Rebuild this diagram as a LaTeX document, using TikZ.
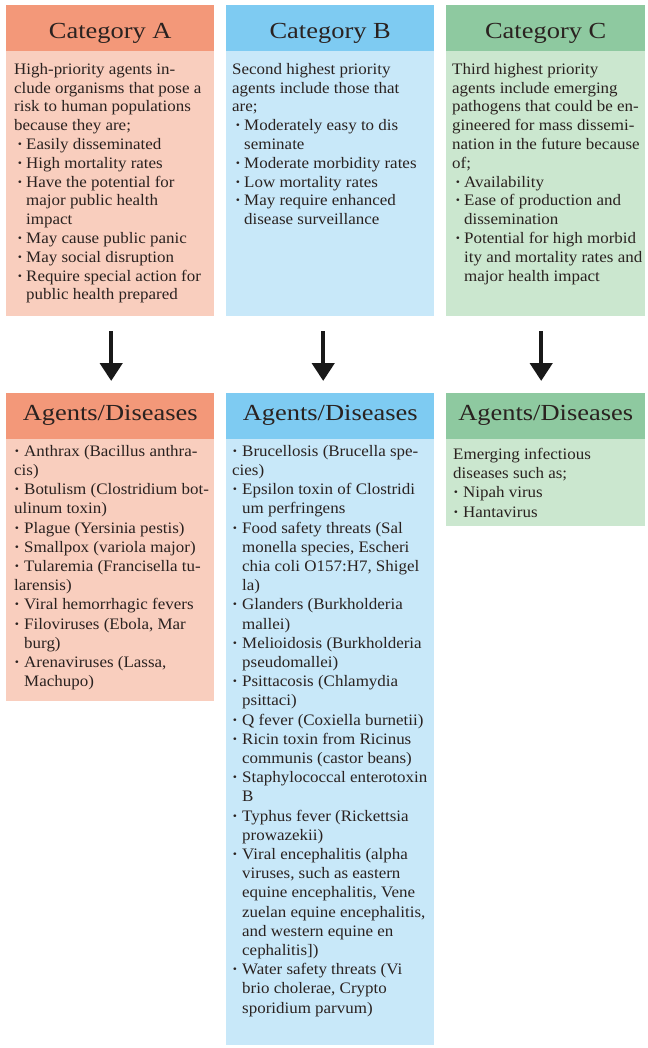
\documentclass[tikz,border=0pt]{standalone}
\usepackage{fontspec}
\setmainfont{Liberation Serif}[FakeStretch=1.06]
\newfontfamily\hdrfont{Liberation Serif}[FakeStretch=1.15]
\usetikzlibrary{arrows.meta}

\definecolor{hdrA}{RGB}{243,152,121}
\definecolor{bodA}{RGB}{249,206,190}
\definecolor{hdrB}{RGB}{126,203,242}
\definecolor{bodB}{RGB}{200,232,249}
\definecolor{hdrC}{RGB}{142,201,160}
\definecolor{bodC}{RGB}{203,231,207}
\definecolor{ink}{RGB}{42,34,32}

% bullet items: upper panels (slightly indented) and lower panels
\newcommand\dotmark{\textbf{·}}
\newcommand\citem[1]{\hspace*{3pt}\makebox[9pt][l]{\dotmark}#1}
\newcommand\ccont[1]{\hspace*{12pt}#1}
\newcommand\aitem[1]{\makebox[10pt][l]{\dotmark}#1}
\newcommand\acont[1]{\hspace*{10pt}#1}

\tikzset{
  hdr/.style={anchor=north west, inner sep=0pt, minimum width=208pt,
    minimum height=46pt, text=ink, font=\hdrfont\fontsize{23}{27}\selectfont},
  cathdr/.style={hdr, text height=20pt, text depth=0pt},
  aghdr/.style={hdr, text height=9pt, text depth=0pt},
  panel/.style={anchor=north west, inner sep=0pt, minimum width=208pt},
  txt/.style={anchor=north west, inner sep=0pt, align=left, text=ink},
  cattxt/.style={txt, font=\fontsize{16}{18.8}\selectfont},
  agtxt/.style={txt, font=\fontsize{16}{19.2}\selectfont},
  down/.style={line width=4.5pt, draw=black!90,
    -{Triangle[width=22pt,length=18pt]}, shorten <=15pt, shorten >=12pt}
}

\begin{document}
\begin{tikzpicture}[x=1pt,y=-1pt]
\fill[white] (0,0) rectangle (647,1048);
\useasboundingbox (0,0) rectangle (647,1048);

% ---- category panels ----
\node[panel, fill=bodA, minimum height=266pt] (bodyA) at (6,50) {};
\node[cathdr, fill=hdrA] (catA) at (6,5) {Category A};
\node[panel, fill=bodB, minimum height=266pt] (bodyB) at (226,50) {};
\node[cathdr, fill=hdrB] (catB) at (226,5) {Category B};
\node[panel, fill=bodC, minimum height=266pt, minimum width=199pt] (bodyC) at (446,50) {};
\node[cathdr, fill=hdrC, minimum width=199pt] (catC) at (446,5) {Category C};

\node[cattxt] (txtA) at (14,63) {%
High-priority agents in-\\
clude organisms that pose a\\
risk to human populations\\
because they are;\\
\citem{Easily disseminated}\\
\citem{High mortality rates}\\
\citem{Have the potential for}\\
\ccont{major public health}\\
\ccont{impact}\\
\citem{May cause public panic}\\
\citem{May social disruption}\\
\citem{Require special action for}\\
\ccont{public health prepared}};

\node[cattxt] (txtB) at (232,63) {%
Second highest priority\\
agents include those that\\
are;\\
\citem{Moderately easy to dis}\\
\ccont{seminate}\\
\citem{Moderate morbidity rates}\\
\citem{Low mortality rates}\\
\citem{May require enhanced}\\
\ccont{disease surveillance}};

\node[cattxt] (txtC) at (452,63) {%
Third highest priority\\
agents include emerging\\
pathogens that could be en-\\
gineered for mass dissemi-\\
nation in the future because\\
of;\\
\citem{Availability}\\
\citem{Ease of production and}\\
\ccont{dissemination}\\
\citem{Potential for high morbid}\\
\ccont{ity and mortality rates and}\\
\ccont{major health impact}};

% ---- agents / diseases panels ----
\node[panel, fill=bodA, minimum height=262pt] (agbodyA) at (6,439) {};
\node[aghdr, fill=hdrA] (agA) at (6,393) {Agents/Diseases};
\node[panel, fill=bodB, minimum height=606pt] (agbodyB) at (226,439) {};
\node[aghdr, fill=hdrB] (agB) at (226,393) {Agents/Diseases};
\node[panel, fill=bodC, minimum height=87pt, minimum width=199pt] (agbodyC) at (446,439) {};
\node[aghdr, fill=hdrC, minimum width=199pt] (agC) at (446,393) {Agents/Diseases};

\node[agtxt] (listA) at (14,445) {%
\aitem{Anthrax (Bacillus anthra-}\\
cis)\\
\aitem{Botulism (Clostridium bot-}\\
ulinum toxin)\\
\aitem{Plague (Yersinia pestis)}\\
\aitem{Smallpox (variola major)}\\
\aitem{Tularemia (Francisella tu-}\\
larensis)\\
\aitem{Viral hemorrhagic fevers}\\
\aitem{Filoviruses (Ebola, Mar}\\
\acont{burg)}\\
\aitem{Arenaviruses (Lassa,}\\
\acont{Machupo)}};

\node[agtxt] (listB) at (232,445) {%
\aitem{Brucellosis (Brucella spe-}\\
cies)\\
\aitem{Epsilon toxin of Clostridi}\\
\acont{um perfringens}\\
\aitem{Food safety threats (Sal}\\
\acont{monella species, Escheri}\\
\acont{chia coli O157:H7, Shigel}\\
\acont{la)}\\
\aitem{Glanders (Burkholderia}\\
\acont{mallei)}\\
\aitem{Melioidosis (Burkholderia}\\
\acont{pseudomallei)}\\
\aitem{Psittacosis (Chlamydia}\\
\acont{psittaci)}\\
\aitem{Q fever (Coxiella burnetii)}\\
\aitem{Ricin toxin from Ricinus}\\
\acont{communis (castor beans)}\\
\aitem{Staphylococcal enterotoxin}\\
\acont{B}\\
\aitem{Typhus fever (Rickettsia}\\
\acont{prowazekii)}\\
\aitem{Viral encephalitis (alpha}\\
\acont{viruses, such as eastern}\\
\acont{equine encephalitis, Vene}\\
\acont{zuelan equine encephalitis,}\\
\acont{and western equine en}\\
\acont{cephalitis])}\\
\aitem{Water safety threats (Vi}\\
\acont{brio cholerae, Crypto}\\
\acont{sporidium parvum)}};

\node[agtxt] (listC) at (453,448) {%
Emerging infectious\\
diseases such as;\\
\aitem{Nipah virus}\\
\aitem{Hantavirus}};

% ---- arrows ----
\draw[down] ([xshift=1pt]bodyA.south) -- ([xshift=1pt]agA.north);
\draw[down] ([xshift=-7pt]bodyB.south) -- ([xshift=-7pt]agB.north);
\draw[down] ([xshift=-4.5pt]bodyC.south) -- ([xshift=-4.5pt]agC.north);
\end{tikzpicture}
\end{document}
